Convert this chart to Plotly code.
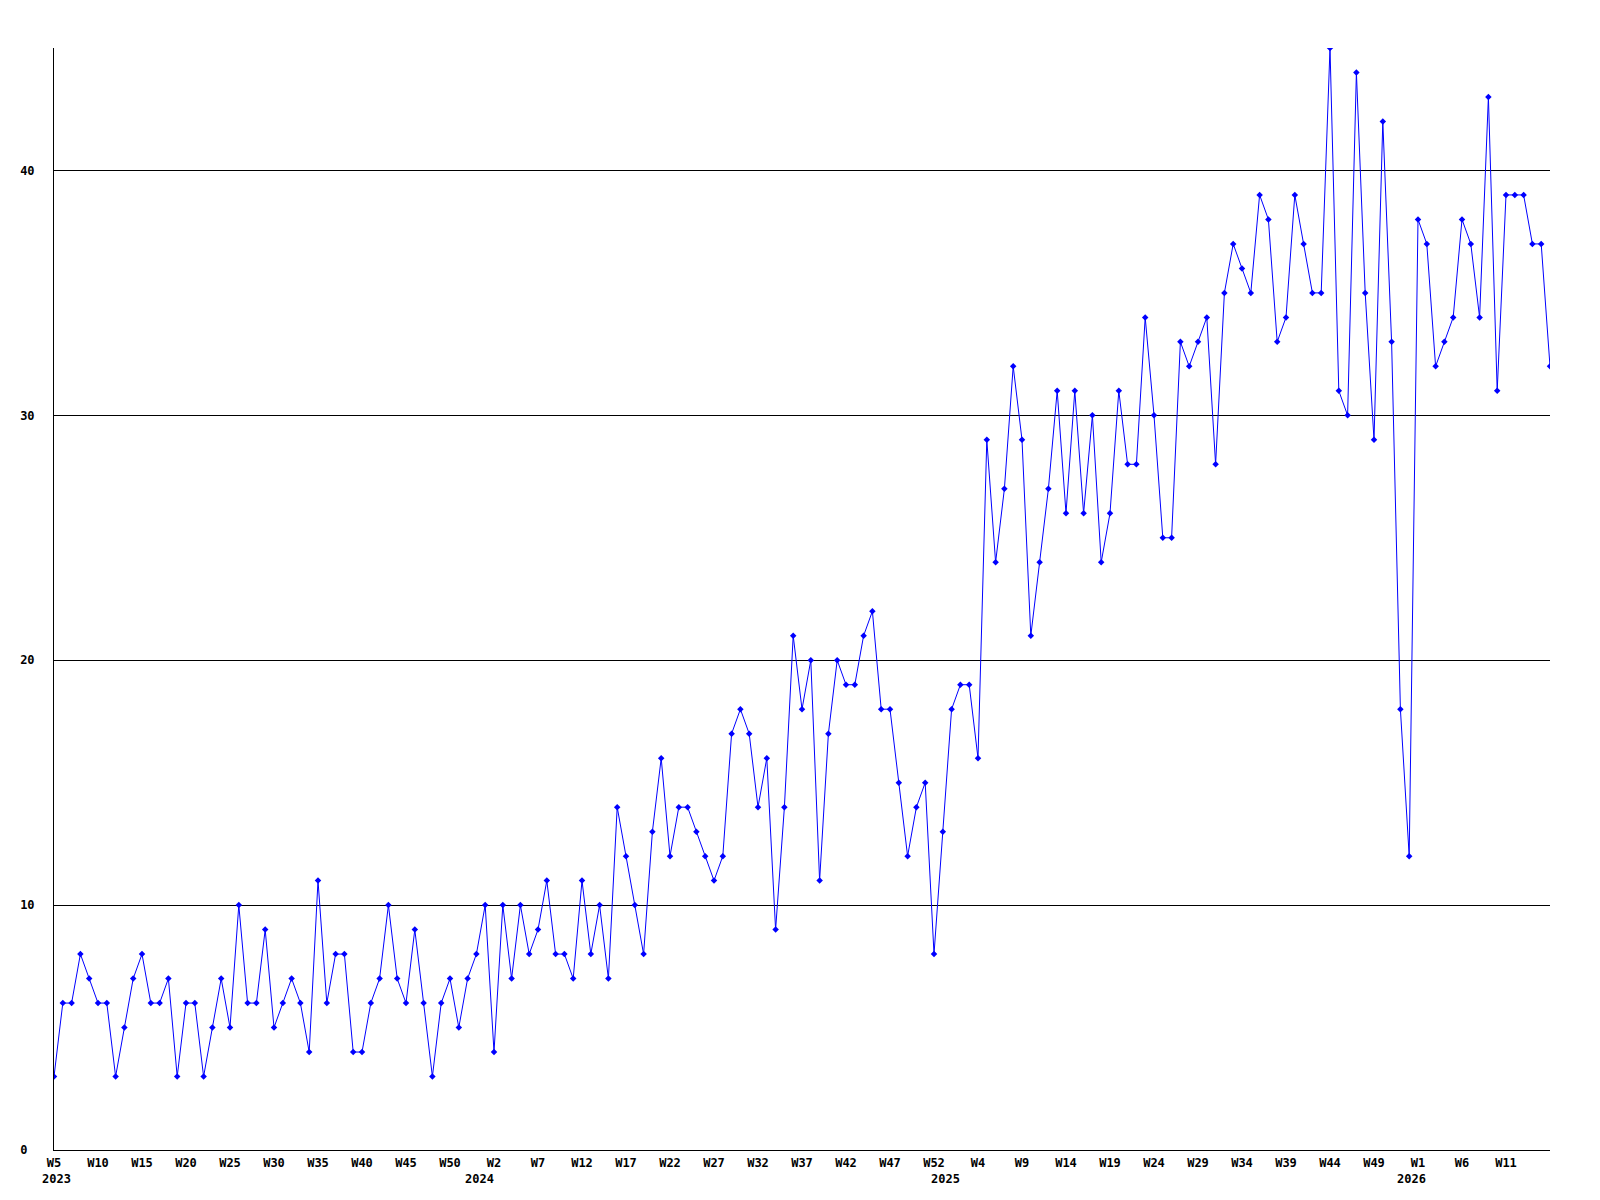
import plotly.graph_objects as go

# Weekly values, 2023-W5 onwards (one value per week)
values = [
    3, 6, 6, 8, 7, 6, 6, 3, 5, 7, 8, 6, 6, 7, 3, 6, 6, 3, 5, 7, 5, 10, 6, 6, 9, 5, 6, 7, 6, 4, 11, 6, 8, 8, 4,
    4, 6, 7, 10, 7, 6, 9, 6, 3, 6, 7, 5, 7, 8, 10, 4, 10, 7, 10, 8, 9, 11, 8, 8, 7, 11, 8, 10, 7, 14, 12,
    10, 8, 13, 16, 12, 14, 14, 13, 12, 11, 12, 17, 18, 17, 14, 16, 9, 14, 21, 18, 20, 11, 17, 20, 19, 19, 21, 22, 18, 18, 15,
    12, 14, 15, 8, 13, 18, 19, 19, 16, 29, 24, 27, 32, 29, 21, 24, 27, 31, 26, 31, 26, 30, 24, 26, 31, 28, 28, 34,
    30, 25, 25, 33, 32, 33, 34, 28, 35, 37, 36, 35, 39, 38, 33, 34, 39, 37, 35, 35, 45, 31, 30, 44, 35, 29, 42, 33, 18, 12,
    38, 37, 32, 33, 34, 38, 37, 34, 43, 31, 39, 39, 39, 37, 37, 32,
]

# Week tick labels, one every 5 weeks
tick_labels = [
    "W5", "W10", "W15", "W20", "W25", "W30", "W35", "W40", "W45", "W50",
    "W2", "W7", "W12", "W17", "W22", "W27", "W32", "W37", "W42", "W47", "W52",
    "W4", "W9", "W14", "W19", "W24", "W29", "W34", "W39", "W44", "W49",
    "W1", "W6", "W11",
]
tick_step = 5

# Year labels and the week position they sit under
year_labels = ["2023", "2024", "2025", "2026"]
year_label_pos = [0.3, 48.3, 101.3, 154.3]

y_ticks = [0, 10, 20, 30, 40]

FONT = "DejaVu Sans Mono"

x = list(range(len(values)))
tickvals = [i * tick_step for i in range(len(tick_labels))]

fig = go.Figure()
fig.add_trace(go.Scatter(
    x=x, y=values, mode="lines+markers",
    line=dict(color="#0000FF", width=1),
    marker=dict(symbol="diamond", size=5, color="#0000FF"),
    hoverinfo="x+y", showlegend=False,
))

annotations = [
    dict(x=px, y=0, xref="x", yref="paper", text="<b>%s</b>" % t, showarrow=False,
         xanchor="center", yanchor="top", yshift=-20,
         font=dict(family=FONT, size=12, color="black"))
    for t, px in zip(year_labels, year_label_pos)
]

fig.update_layout(
    width=1600, height=1200,
    margin=dict(l=43, r=58, t=40, b=58, pad=0),
    paper_bgcolor="white", plot_bgcolor="white",
    font=dict(family=FONT, size=12, color="black"),
    annotations=annotations,
)
fig.update_xaxes(
    range=[0, len(values) - 1],
    tickmode="array", tickvals=tickvals,
    ticktext=["<b>%s</b>" % t for t in tick_labels],
    showgrid=False, zeroline=False,
    showline=True, linecolor="black", linewidth=1,
    ticks="", ticklabelstandoff=2,
    tickfont=dict(family=FONT, size=12, color="black"),
)
fig.update_yaxes(
    range=[0, 45],
    tickmode="array", tickvals=y_ticks,
    ticktext=["<b>%s</b>" % (str(v) + "\u00a0" * (2 - len(str(v)))) for v in y_ticks],
    showgrid=True, gridcolor="black", gridwidth=1,
    zeroline=False,
    showline=True, linecolor="black", linewidth=1,
    ticks="", ticklabelstandoff=16,
    tickfont=dict(family=FONT, size=12, color="black"),
)

fig.write_html("out.html")
